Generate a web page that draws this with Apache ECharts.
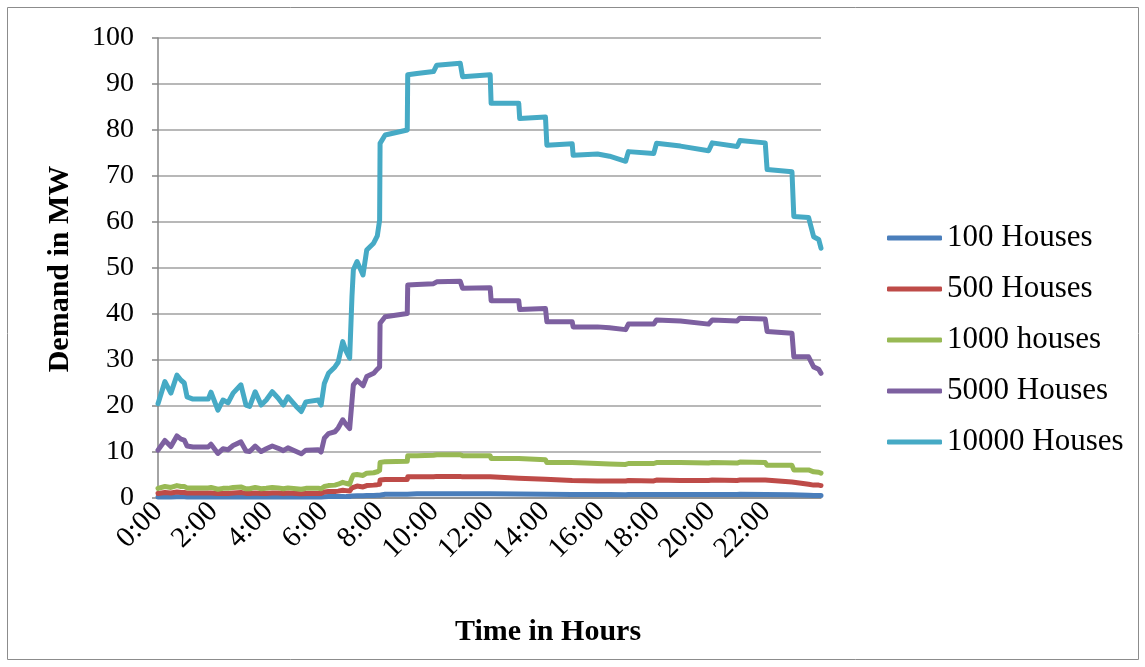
<!DOCTYPE html>
<html>
<head>
<meta charset="utf-8">
<script src="https://cdn.jsdelivr.net/npm/echarts@6/dist/echarts.min.js"></script>
<style>
html,body{margin:0;padding:0;background:#fff;}
#chart{width:1145px;height:667px;}
</style>
</head>
<body>
<div id="chart"></div>
<script>
// Time of each sample, minutes after midnight
const timesMin = [0,15,28,41,50,57,63,76,109,115,130,141,152,163,180,191,199,211,224,235,248,261,272,282,300,311,321,348,354,361,370,384,391,401,408,416,421,424,432,445,453,468,476,481,482,493,541,542,562,598,605,656,661,721,723,783,785,841,844,899,901,954,980,1015,1019,1021,1076,1082,1134,1195,1203,1257,1263,1318,1322,1376,1380,1412,1423,1434,1439];

const houses100 = [0.2,0.25,0.2,0.25,0.25,0.25,0.2,0.2,0.2,0.2,0.2,0.2,0.2,0.2,0.25,0.2,0.2,0.2,0.2,0.2,0.2,0.2,0.2,0.2,0.2,0.2,0.2,0.2,0.2,0.25,0.3,0.3,0.3,0.35,0.3,0.3,0.45,0.5,0.5,0.5,0.55,0.55,0.6,0.6,0.75,0.8,0.8,0.9,0.9,0.9,0.95,0.95,0.9,0.9,0.85,0.85,0.8,0.8,0.75,0.75,0.75,0.75,0.75,0.7,0.7,0.75,0.75,0.75,0.75,0.75,0.75,0.75,0.8,0.75,0.7,0.7,0.6,0.6,0.55,0.55,0.55];

const houses500 = [1.0,1.2,1.1,1.3,1.2,1.2,1.1,1.1,1.1,1.1,1.0,1.0,1.0,1.1,1.2,1.0,1.0,1.1,1.0,1.0,1.1,1.1,1.0,1.1,1.0,0.9,1.0,1.0,1.0,1.3,1.4,1.4,1.5,1.7,1.6,1.5,2.2,2.5,2.6,2.4,2.7,2.8,2.9,3.0,3.9,4.0,4.0,4.6,4.6,4.6,4.7,4.7,4.6,4.6,4.3,4.3,4.1,4.1,3.8,3.8,3.7,3.7,3.7,3.7,3.6,3.8,3.7,3.9,3.8,3.8,3.9,3.8,3.9,3.9,3.6,3.5,3.1,3.0,2.8,2.8,2.7];

const houses1000 = [2.1,2.5,2.3,2.7,2.5,2.5,2.2,2.2,2.2,2.3,1.9,2.1,2.1,2.3,2.4,2.0,2.0,2.3,2.0,2.1,2.3,2.2,2.0,2.2,2.0,1.9,2.1,2.1,2.0,2.5,2.7,2.8,3.0,3.4,3.2,3.0,4.4,5.0,5.1,4.9,5.4,5.5,5.7,6.0,7.7,7.9,8.0,9.2,9.2,9.3,9.4,9.4,9.2,9.2,8.6,8.6,8.2,8.3,7.7,7.7,7.5,7.5,7.4,7.3,7.3,7.5,7.5,7.7,7.7,7.6,7.7,7.6,7.8,7.7,7.1,7.1,6.1,6.1,5.7,5.6,5.4];

const houses5000 = [10.4,12.5,11.2,13.5,12.8,12.6,11.3,11.1,11.1,11.7,9.7,10.7,10.5,11.4,12.2,10.2,10.1,11.3,10.1,10.7,11.3,10.8,10.3,10.9,10.1,9.6,10.4,10.5,10.0,13.0,14.0,14.4,15.2,17.0,16.0,15.1,21.0,24.6,25.6,24.4,26.4,27.1,28.0,28.5,38.0,39.4,40.1,46.3,46.4,46.6,47.0,47.1,45.6,45.7,42.9,42.9,41.0,41.2,38.3,38.3,37.2,37.2,37.0,36.6,36.5,37.8,37.8,38.7,38.5,37.8,38.7,38.5,39.1,38.9,36.2,35.8,30.7,30.7,28.5,28.0,27.1];

const houses10000 = [20.5,25.3,22.8,26.7,25.6,25.0,22.0,21.5,21.5,23.0,19.1,21.3,20.7,22.8,24.6,20.2,19.9,23.1,20.2,21.3,23.1,21.7,20.2,22.0,19.9,18.8,20.9,21.3,20.2,24.9,27.1,28.5,29.5,34.0,32.0,30.4,43.8,49.6,51.4,48.5,53.9,55.4,57.0,60.4,77.1,78.9,80.0,92.0,92.3,92.7,94.1,94.5,91.6,92.0,85.8,85.8,82.5,82.8,76.7,77.0,74.5,74.8,74.3,73.2,72.9,75.3,74.9,77.1,76.5,75.5,77.2,76.4,77.7,77.2,71.4,70.9,61.2,61.0,56.8,56.2,54.3];

const seriesNames = ['100 Houses','500 Houses','1000 houses','5000 Houses','10000 Houses'];
const tickLabels = ['0:00','2:00','4:00','6:00','8:00','10:00','12:00','14:00','16:00','18:00','20:00','22:00'];
const colors = ['#4A7EBB','#BE4B48','#98B954','#7D60A0','#46AAC5'];

const allValues = [houses100, houses500, houses1000, houses5000, houses10000];
const FONT = "'Liberation Serif','Times New Roman',serif";

const chart = echarts.init(document.getElementById('chart'), null, {renderer:'canvas'});
chart.setOption({
  animation: false,
  color: colors,
  grid: {left: 158, top: 38, right: 324, bottom: 169, containLabel: false},
  legend: {
    orient: 'vertical',
    left: 882,
    top: 215,
    icon: 'roundRect',
    itemWidth: 55,
    itemHeight: 5,
    itemGap: 15,
    textStyle: {fontFamily: FONT, fontSize: 31, color: '#000', lineHeight: 36},
    data: seriesNames
  },
  xAxis: {
    type: 'value',
    min: 0,
    max: 1439,
    interval: 120,
    axisLine: {show: true, onZero: false, lineStyle: {color: '#868686', width: 1.5}},
    axisTick: {show: false},
    splitLine: {show: false},
    axisLabel: {
      rotate: 45,
      margin: 9,
      showMaxLabel: false,
      fontFamily: FONT,
      fontSize: 29,
      color: '#000',
      formatter: function (v) {
        if (v % 120 !== 0) return '';
        return tickLabels[v / 120] || '';
      }
    }
  },
  yAxis: {
    type: 'value',
    min: 0,
    max: 100,
    interval: 10,
    axisLine: {show: true, lineStyle: {color: '#868686', width: 1.5}},
    axisTick: {show: true, length: 6, lineStyle: {color: '#868686', width: 1.5}},
    splitLine: {show: true, lineStyle: {color: '#a0a0a0', width: 1.5}},
    axisLabel: {margin: 24, fontFamily: FONT, fontSize: 28, color: '#000'}
  },
  graphic: [
    {type: 'rect', silent: true, z: -10, shape: {x: 7.5, y: 7.5, width: 1131, height: 652},
     style: {fill: 'none', stroke: '#8c8c8c', lineWidth: 1}},
    {type: 'text', x: 60, y: 269, rotation: Math.PI / 2,
     style: {text: 'Demand in MW', fontFamily: FONT, fontSize: 30, fontWeight: 'bold', fill: '#000', textAlign: 'center', textVerticalAlign: 'middle'}},
    {type: 'text', x: 548, y: 632,
     style: {text: 'Time in Hours', fontFamily: FONT, fontSize: 30, fontWeight: 'bold', fill: '#000', textAlign: 'center', textVerticalAlign: 'middle'}}
  ],
  series: seriesNames.map(function (name, i) {
    return {
      name: name,
      type: 'line',
      symbol: 'none',
      smooth: false,
      lineStyle: {width: 5, color: colors[i], cap: 'round', join: 'round'},
      data: timesMin.map(function (t, k) { return [t, allValues[i][k]]; })
    };
  })
});
</script>
</body>
</html>
